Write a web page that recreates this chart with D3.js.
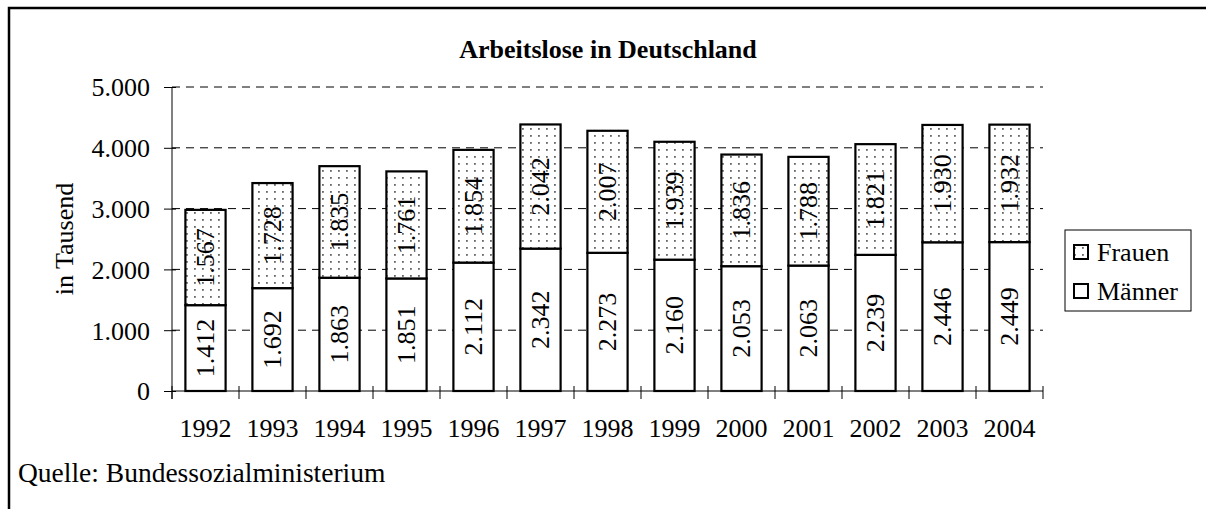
<!DOCTYPE html>
<html><head><meta charset="utf-8">
<script src="https://cdn.jsdelivr.net/npm/d3@7"></script>
<style>body{margin:0;background:#fff}svg{display:block;font-family:"Liberation Serif","Times New Roman",serif}</style>
</head><body><svg id="c" width="1206" height="509"></svg>
<script>
const years = ["1992","1993","1994","1995","1996","1997","1998","1999","2000","2001","2002","2003","2004"];
const maenner = [1412,1692,1863,1851,2112,2342,2273,2160,2053,2063,2239,2446,2449];
const frauen = [1567,1728,1835,1761,1854,2042,2007,1939,1836,1788,1821,1930,1932];
const yTicks = [0,1000,2000,3000,4000,5000];
const seriesNames = ["Männer","Frauen"];
const title = "Arbeitslose in Deutschland";
const yTitle = "in Tausend";
const source = "Quelle: Bundessozialministerium";

const FS = 26;
const svg = d3.select("#c");
const fmt = v => d3.format(",")(v).replace(/,/g,".");
const fmtTick = v => v===0 ? "0" : fmt(v);

const defs = svg.append("defs");
const pat = defs.append("pattern").attr("id","dots").attr("patternUnits","userSpaceOnUse")
  .attr("width",8).attr("height",7);
pat.append("rect").attr("width",8).attr("height",7).attr("fill","#fff");
pat.append("rect").attr("x",2).attr("y",2).attr("width",1.8).attr("height",1.8).attr("fill","#666");

// frame
svg.append("rect").attr("x",9).attr("y",8).attr("width",1300).attr("height",700)
  .attr("fill","none").attr("stroke","#000").attr("stroke-width",2.5);

const x = d3.scaleBand().domain(years).range([172,1043]).paddingInner(0.4).paddingOuter(0.2);
const y = d3.scaleLinear().domain([0,5000]).range([391,87]);

// gridlines
svg.append("g").selectAll("line").data(yTicks.filter(d=>d>0)).join("line")
  .attr("x1",172).attr("x2",1043).attr("y1",d=>y(d)).attr("y2",d=>y(d))
  .attr("stroke","#000").attr("stroke-width",1).attr("stroke-dasharray","8,6");

// y axis
const ya = svg.append("g").attr("transform","translate(172,0)")
  .call(d3.axisLeft(y).tickValues(yTicks).tickFormat(fmtTick).tickSize(8).tickPadding(14));
ya.select(".domain").remove();
ya.append("line").attr("x1",0).attr("x2",0).attr("y1",y(5000)).attr("y2",y(0)+8).attr("stroke","#000");
ya.selectAll(".tick line").attr("x2",-8).attr("x1",4).attr("stroke","#000");
ya.selectAll("text").attr("font-family","Liberation Serif").attr("font-size",FS).attr("fill","#000")
  .attr("x",-22).attr("dy","0.34em");

// x axis
const xa = svg.append("g").attr("transform",`translate(0,${y(0)})`)
  .call(d3.axisBottom(x).tickSize(0));
xa.select(".domain").attr("d",`M172,0H1043`).attr("stroke","#000");
xa.selectAll("text").attr("font-family","Liberation Serif").attr("font-size",FS).attr("fill","#000")
  .attr("y",46).attr("dy",0);
const step = x.step();
xa.selectAll("line.b").data(d3.range(years.length+1)).join("line").attr("class","b")
  .attr("x1",i=>172+i*step).attr("x2",i=>172+i*step).attr("y1",-5).attr("y2",8).attr("stroke","#000");

// bars
const stack = years.map((yr,i)=>({yr, m:maenner[i], f:frauen[i]}));
const g = svg.append("g");
g.selectAll("rect.m").data(stack).join("rect").attr("class","m")
  .attr("x",d=>x(d.yr)).attr("width",x.bandwidth())
  .attr("y",d=>y(d.m)).attr("height",d=>y(0)-y(d.m))
  .attr("fill","#fff").attr("stroke","#000").attr("stroke-width",2.2);
g.selectAll("rect.f").data(stack).join("rect").attr("class","f")
  .attr("x",d=>x(d.yr)).attr("width",x.bandwidth())
  .attr("y",d=>y(d.m+d.f)).attr("height",d=>y(d.m)-y(d.m+d.f))
  .attr("fill","url(#dots)").attr("stroke","#000").attr("stroke-width",2.2);

// labels
const lab = (v,c,yr) => g.append("text")
  .attr("transform",`translate(${x(yr)+x.bandwidth()/2},${c}) rotate(-90)`)
  .attr("text-anchor","middle").attr("dy","0.34em")
  .attr("font-size",FS).attr("fill","#000").text(fmt(v));
stack.forEach(d=>{
  lab(d.m,(y(0)+y(d.m))/2,d.yr);
  lab(d.f,(y(d.m)+y(d.m+d.f))/2,d.yr);
});

// title
svg.append("text").attr("x",608).attr("y",58).attr("text-anchor","middle")
  .attr("font-weight","bold").attr("font-size",FS).text(title);
// y title
svg.append("text").attr("transform",`translate(73,${(y(0)+y(5000))/2}) rotate(-90)`)
  .attr("text-anchor","middle").attr("font-size",FS).text(yTitle);
// source
svg.append("text").attr("x",18).attr("y",482).attr("font-size",27.5).text(source);

// legend
const lg = svg.append("g");
lg.append("rect").attr("x",1065).attr("y",230).attr("width",126).attr("height",81)
  .attr("fill","#fff").attr("stroke","#000").attr("stroke-width",1);
const items = [{n:seriesNames[1],fill:"url(#dots)",cy:252},{n:seriesNames[0],fill:"#fff",cy:291}];
items.forEach(it=>{
  lg.append("rect").attr("x",1074).attr("y",it.cy-7).attr("width",14).attr("height",14)
    .attr("fill",it.fill).attr("stroke","#000").attr("stroke-width",2);
  lg.append("text").attr("x",1097).attr("y",it.cy).attr("dy","0.34em").attr("font-size",FS).text(it.n);
});
</script></body></html>
